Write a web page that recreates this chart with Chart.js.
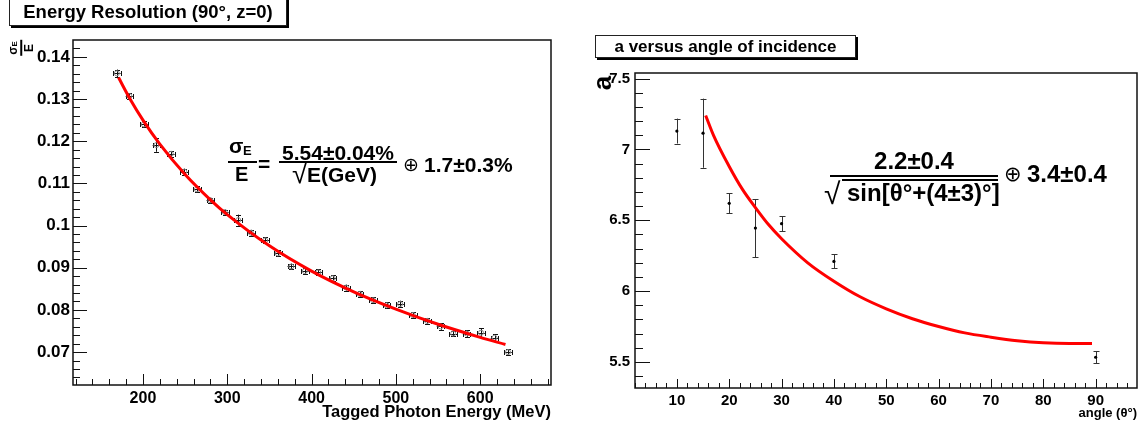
<!DOCTYPE html>
<html>
<head>
<meta charset="utf-8">
<script src="https://cdn.jsdelivr.net/npm/chart.js@4.4.1/dist/chart.umd.min.js"></script>
<style>
  body { margin: 0; width: 1143px; height: 429px; background: #fff; position: relative; overflow: hidden;
         font-family: "Liberation Sans", Arial, sans-serif; font-weight: bold; color: #000; }
  canvas { position: absolute; top: 0; }
  .t { position: absolute; white-space: nowrap; line-height: 1; }
  .bar { position: absolute; background: #000; }
  .box { position: absolute; background: #fff; border: 1px solid #222; box-shadow: 2px 2px 0 #000;
         text-align: center; white-space: nowrap; }
</style>
</head>
<body>
<canvas id="left" width="571" height="429" style="left:0;width:571px;height:429px"></canvas>
<canvas id="right" width="572" height="429" style="left:571px;width:572px;height:429px"></canvas>

<!-- left panel texts -->
<div class="box" style="left:9px;top:-5px;width:276px;height:29px;line-height:31px;font-size:18.5px">Energy Resolution (90°, z=0)</div>
<div class="t" style="left:21px;top:48px;transform:translate(-50%,-50%) rotate(-90deg);text-align:center;font-size:12px">
  <div style="padding:0 1px">σ<span style="font-size:8px">E</span></div>
  <div style="height:1.5px;background:#000;margin:1px 0"></div>
  <div>E</div>
</div>
<div class="t" style="left:229px;top:135px;font-size:21px">σ</div>
<div class="t" style="left:243px;top:144px;font-size:13px">E</div>
<div class="bar" style="left:228px;top:161px;width:29px;height:2px"></div>
<div class="t" style="left:235px;top:164px;font-size:20px">E</div>
<div class="t" style="left:258px;top:153px;font-size:21px">=</div>
<div class="t" style="left:279px;top:142px;width:118px;text-align:center;font-size:21px">5.54±0.04%</div>
<div class="bar" style="left:279px;top:161px;width:118px;height:2px"></div>
<div class="t" style="left:292px;top:160px;font-size:28px;font-weight:normal">√</div>
<div class="t" style="left:307px;top:164px;font-size:21px">E(GeV)</div>
<div class="t" style="left:403px;top:155px;font-size:19px;font-weight:normal;font-family:'DejaVu Sans'">⊕</div>
<div class="t" style="left:424px;top:154px;font-size:21px">1.7±0.3%</div>
<div class="t" style="right:592px;top:403px;font-size:16.5px">Tagged Photon Energy (MeV)</div>

<!-- right panel texts -->
<div class="box" style="left:595px;top:35px;width:259px;height:21px;line-height:22px;font-size:17px">a versus angle of incidence</div>
<div class="t" style="left:602px;top:83px;transform:translate(-50%,-50%) rotate(-90deg);font-size:26px">a</div>
<div class="t" style="left:830px;top:149px;width:168px;text-align:center;font-size:24px">2.2±0.4</div>
<div class="bar" style="left:830px;top:175px;width:168px;height:2px"></div>
<div class="t" style="left:824px;top:179px;font-size:30px;font-weight:normal">√</div>
<div class="bar" style="left:842px;top:179px;width:156px;height:1.5px"></div>
<div class="t" style="left:847px;top:181px;font-size:24px">sin[θ°+(4±3)°]</div>
<div class="t" style="left:1004px;top:164px;font-size:21px;font-weight:normal;font-family:'DejaVu Sans'">⊕</div>
<div class="t" style="left:1027px;top:162px;font-size:24px">3.4±0.4</div>
<div class="t" style="right:6px;top:406px;font-size:13px">angle (θ°)</div>

<script>
// ---- left panel: energy resolution ----
const energyMeV  = [169, 184, 201, 216, 233, 249, 264, 280, 297, 313, 328, 345, 360, 376, 392,
                    408, 425, 441, 457, 473, 489, 505, 520, 537, 553, 568, 584, 601, 617, 633];
const sigmaOverE = [0.1361, 0.1307, 0.1240, 0.1191, 0.1170, 0.1128, 0.1086, 0.1060, 0.1032, 0.1013,
                    0.0983, 0.0965, 0.0934, 0.0903, 0.0892, 0.0889, 0.0875, 0.0853, 0.0838, 0.0823,
                    0.0811, 0.0814, 0.0788, 0.0774, 0.0761, 0.0744, 0.0744, 0.0746, 0.0734, 0.0700];
const energyErr  = [4.5, 4.5, 4.5, 4.5, 4.5, 4.5, 4.5, 4.5, 4.5, 4.5, 4.5, 4.5, 4.5, 4.5, 4.5,
                    4.5, 4.5, 4.5, 4.5, 4.5, 4.5, 4.5, 4.5, 4.5, 4.5, 4.5, 4.5, 4.5, 4.5, 4.5];
const sigmaErr   = [0.0009, 0.0007, 0.0007, 0.0016, 0.0007, 0.0007, 0.0007, 0.0006, 0.0006, 0.0013,
                    0.0007, 0.0007, 0.0007, 0.0007, 0.0007, 0.0007, 0.0007, 0.0007, 0.0007, 0.0007,
                    0.0007, 0.0008, 0.0007, 0.0007, 0.0008, 0.0007, 0.0008, 0.0010, 0.0008, 0.0007];
const fitEnergy  = [171, 185, 200, 220, 250, 280, 300, 350, 400, 450, 500, 550, 600, 630];
const fitSigma   = [0.1351, 0.1299, 0.1250, 0.1193, 0.1121, 0.1061, 0.1026, 0.0952, 0.0892,
                    0.0843, 0.0802, 0.0766, 0.0735, 0.0718];
const leftXTicks = [200, 300, 400, 500, 600];
const leftYTicks = [0.07, 0.08, 0.09, 0.1, 0.11, 0.12, 0.13, 0.14];

// ---- right panel: a versus angle ----
const angleDeg   = [10, 15, 20, 25, 30, 40, 90];
const aValue     = [7.13, 7.115, 6.62, 6.445, 6.476, 6.21, 5.533];
const aErr       = [0.088, 0.244, 0.07, 0.205, 0.052, 0.05, 0.042];
const fitAngle   = [15.5, 17, 20, 22.5, 25, 27.5, 30, 35, 40, 45, 50, 55, 60, 65, 70, 75, 80, 85, 89.3];
const fitA       = [7.24, 7.10, 6.88, 6.72, 6.59, 6.47, 6.37, 6.20, 6.07, 5.96, 5.875, 5.805, 5.75,
                    5.705, 5.675, 5.65, 5.635, 5.63, 5.63];
const rightXTicks = [10, 20, 30, 40, 50, 60, 70, 80, 90];
const rightYTicks = [5.5, 6, 6.5, 7, 7.5];

const FONT = '"Liberation Sans", Arial, sans-serif';

function line(ctx, x1, y1, x2, y2) {
  ctx.beginPath(); ctx.moveTo(x1, y1); ctx.lineTo(x2, y2); ctx.stroke();
}

// ROOT-like frame with inward ticks, plus error bars
const rootFrame = {
  id: 'rootFrame',
  beforeDatasetsDraw(chart) {
    const { ctx, scales: { x, y } } = chart;
    ctx.save();
    chart.data.datasets.forEach(ds => {
      if (!ds.yErr) return;
      ctx.strokeStyle = ds.errColor;
      ctx.lineWidth = 1;
      ds.data.forEach((p, i) => {
        const px = Math.round(x.getPixelForValue(p.x)) + 0.5;
        const y1 = y.getPixelForValue(p.y + ds.yErr[i]);
        const y2 = y.getPixelForValue(p.y - ds.yErr[i]);
        line(ctx, px, y1, px, y2);
        line(ctx, px - ds.capY, Math.round(y1) + 0.5, px + ds.capY, Math.round(y1) + 0.5);
        line(ctx, px - ds.capY, Math.round(y2) + 0.5, px + ds.capY, Math.round(y2) + 0.5);
        if (ds.xErr) {
          const py = Math.round(y.getPixelForValue(p.y)) + 0.5;
          const x1 = x.getPixelForValue(p.x - ds.xErr[i]);
          const x2 = x.getPixelForValue(p.x + ds.xErr[i]);
          line(ctx, x1, py, x2, py);
          line(ctx, Math.round(x1) + 0.5, py - ds.capX, Math.round(x1) + 0.5, py + ds.capX);
          line(ctx, Math.round(x2) + 0.5, py - ds.capX, Math.round(x2) + 0.5, py + ds.capX);
        }
      });
    });
    ctx.restore();
  },
  afterDraw(chart, args, o) {
    const { ctx, chartArea: a, scales: { x, y } } = chart;
    ctx.save();
    ctx.strokeStyle = '#111';
    ctx.lineWidth = 1;
    // minor ticks
    for (let v = Math.ceil(x.min / o.xStep) * o.xStep; v <= x.max; v += o.xStep) {
      const px = Math.round(x.getPixelForValue(v)) + 0.5;
      line(ctx, px, a.bottom, px, a.bottom - o.xMinorLen);
    }
    for (let v = Math.ceil(y.min / o.yStep) * o.yStep; v <= y.max; v += o.yStep) {
      const py = Math.round(y.getPixelForValue(v)) + 0.5;
      line(ctx, a.left, py, a.left + o.yMinorLen, py);
    }
    // major ticks
    x.ticks.forEach(t => {
      const px = Math.round(x.getPixelForValue(t.value)) + 0.5;
      line(ctx, px, a.bottom, px, a.bottom - o.xMajorLen);
    });
    y.ticks.forEach(t => {
      const py = Math.round(y.getPixelForValue(t.value)) + 0.5;
      line(ctx, a.left, py, a.left + o.yMajorLen, py);
    });
    // frame
    ctx.lineWidth = 1.5;
    ctx.strokeRect(a.left, a.top, a.right - a.left, a.bottom - a.top);
    ctx.restore();
  }
};

function axis(min, max, ticks, size, padding, fitProp, fitVal) {
  return {
    type: 'linear', min: min, max: max,
    grid: { display: false, drawTicks: false },
    border: { display: false },
    afterBuildTicks: s => { s.ticks = ticks.map(v => ({ value: v })); },
    afterFit: s => { s[fitProp] = fitVal; },
    ticks: {
      color: '#000', padding: padding, autoSkip: false, maxRotation: 0,
      font: { family: FONT, size: size, weight: 'bold' },
      callback: v => String(v)
    }
  };
}

function baseOptions(pad, frame, xScale, yScale) {
  return {
    responsive: false, animation: false, events: [],
    layout: { padding: pad },
    plugins: { legend: { display: false }, tooltip: { enabled: false }, rootFrame: frame },
    scales: { x: xScale, y: yScale }
  };
}

new Chart(document.getElementById('left'), {
  type: 'scatter',
  data: {
    datasets: [
      {
        type: 'line',
        data: fitEnergy.map((e, i) => ({ x: e, y: fitSigma[i] })),
        borderColor: '#ff0000', borderWidth: 3, pointRadius: 0, fill: false,
        cubicInterpolationMode: 'monotone'
      },
      {
        data: energyMeV.map((e, i) => ({ x: e, y: sigmaOverE[i] })),
        xErr: energyErr, yErr: sigmaErr, errColor: '#111', capX: 2.5, capY: 2.5,
        pointRadius: 2.5, pointBorderWidth: 1, pointBorderColor: '#888',
        pointBackgroundColor: 'rgba(0,0,0,0)'
      }
    ]
  },
  options: baseOptions(
    { top: 40, right: 20, left: 0, bottom: 0 },
    { xStep: 20, yStep: 0.002, xMajorLen: 11, xMinorLen: 6, yMajorLen: 14, yMinorLen: 7 },
    axis(117, 684, leftXTicks, 16, 4, 'height', 44),
    axis(0.0622, 0.1440, leftYTicks, 17, 3, 'width', 73)
  ),
  plugins: [rootFrame]
});

new Chart(document.getElementById('right'), {
  type: 'scatter',
  data: {
    datasets: [
      {
        type: 'line',
        data: fitAngle.map((t, i) => ({ x: t, y: fitA[i] })),
        borderColor: '#ff0000', borderWidth: 3, pointRadius: 0, fill: false,
        cubicInterpolationMode: 'monotone'
      },
      {
        data: angleDeg.map((t, i) => ({ x: t, y: aValue[i] })),
        yErr: aErr, errColor: '#333', capY: 3,
        pointRadius: 1.6, pointBorderWidth: 0, pointBackgroundColor: '#000'
      }
    ]
  },
  options: baseOptions(
    { top: 73, right: 6, left: 0, bottom: 0 },
    { xStep: 2, yStep: 0.1, xMajorLen: 9, xMinorLen: 5, yMajorLen: 15, yMinorLen: 8 },
    axis(2, 97.9, rightXTicks, 15, 4, 'height', 41),
    axis(5.316, 7.54, rightYTicks, 15, 5, 'width', 64)
  ),
  plugins: [rootFrame]
});
</script>
</body>
</html>
